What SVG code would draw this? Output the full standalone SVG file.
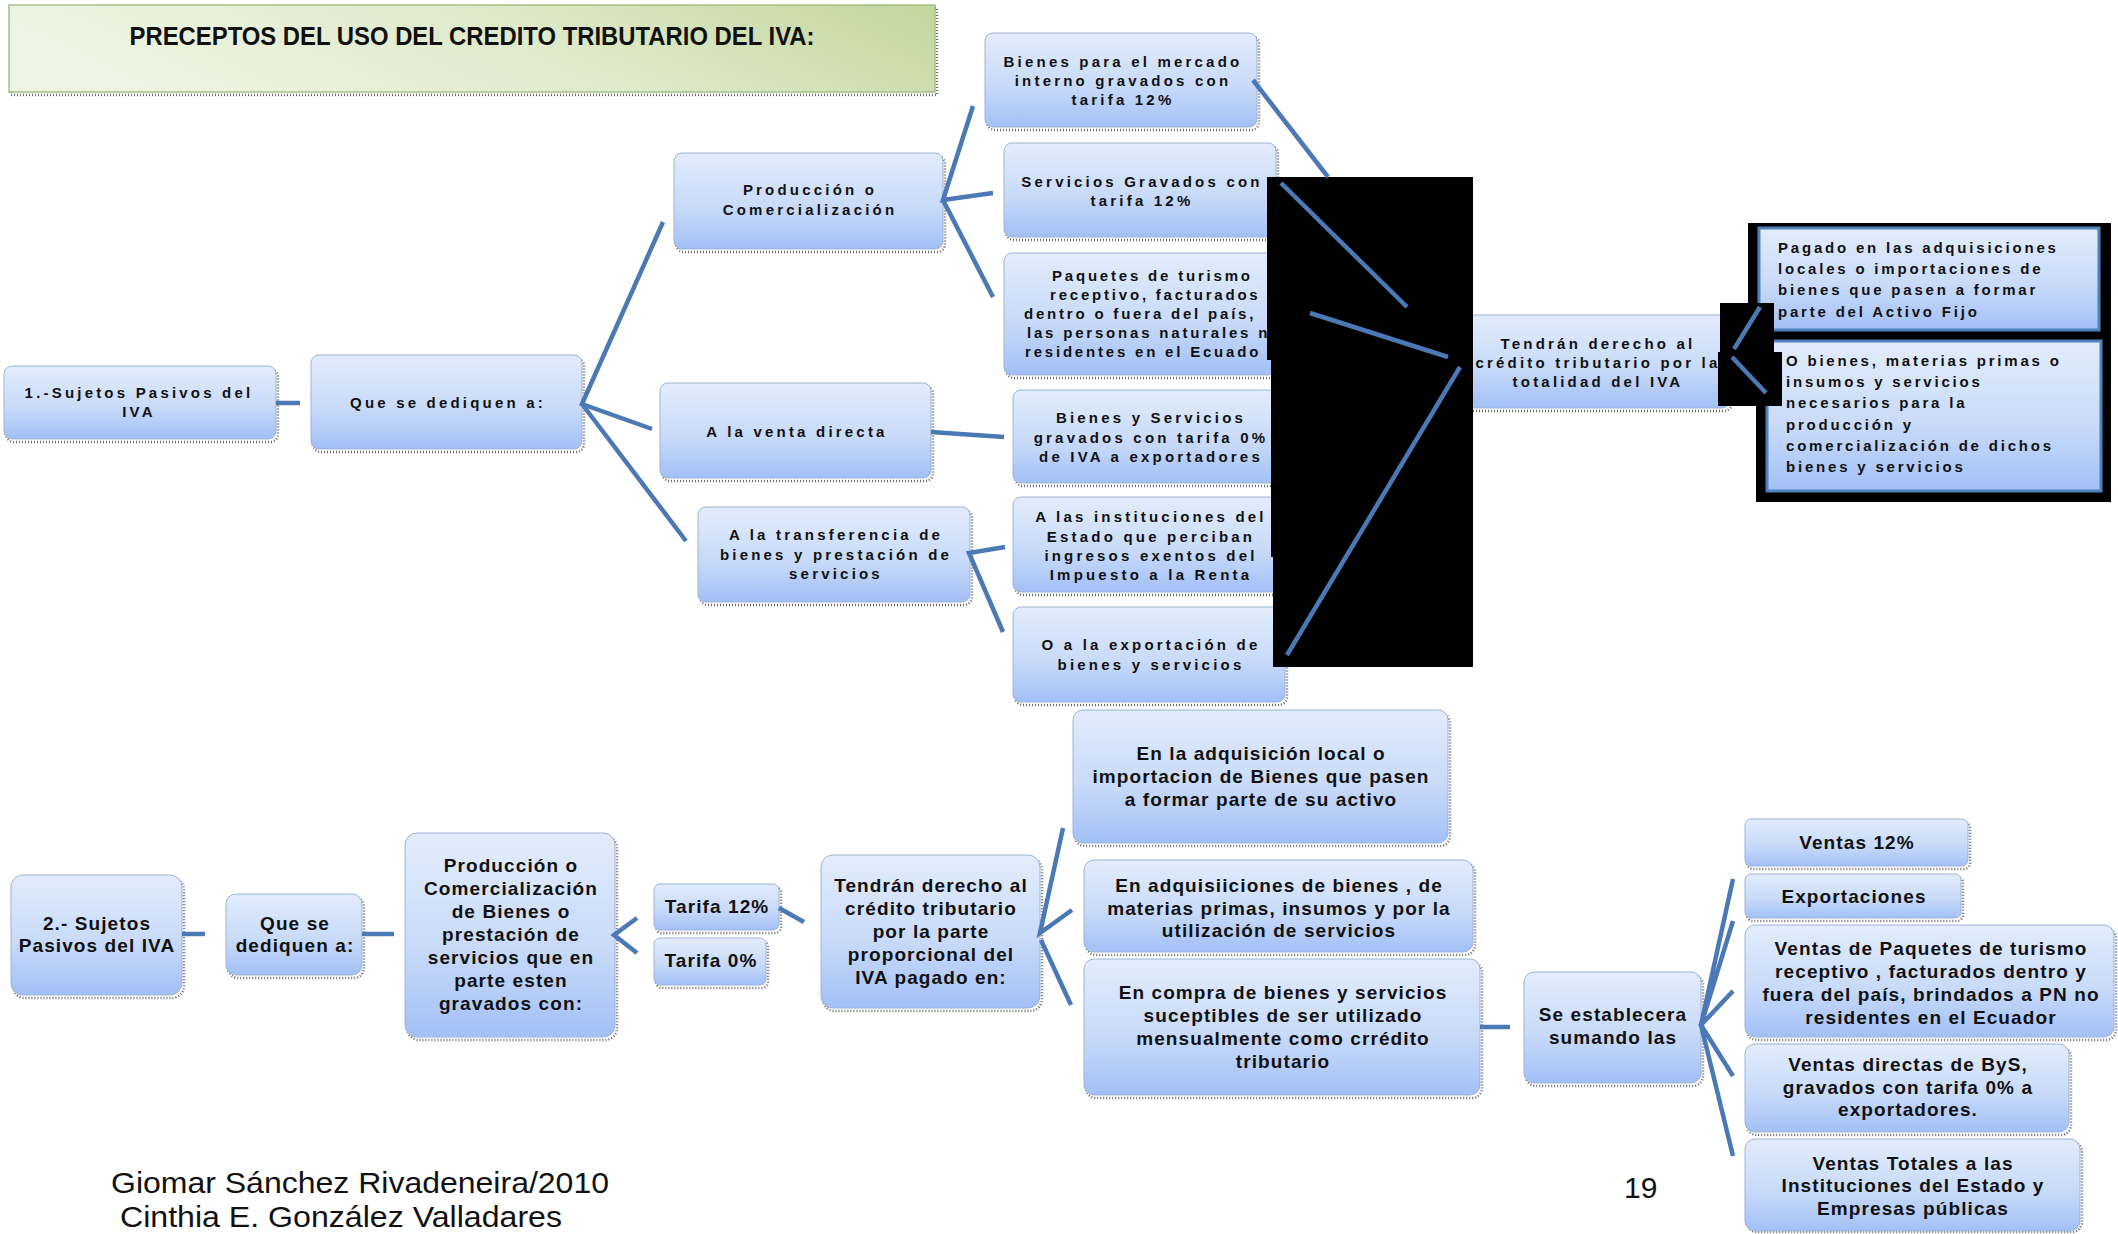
<svg xmlns="http://www.w3.org/2000/svg" width="2118" height="1234" viewBox="0 0 2118 1234">
<defs>
<linearGradient id="gb" x1="0" y1="0" x2="0" y2="1">
<stop offset="0" stop-color="#e3ecfc"/>
<stop offset="0.55" stop-color="#c9dbf9"/>
<stop offset="1" stop-color="#a2c0f6"/>
</linearGradient>
<linearGradient id="gg" x1="0" y1="0.2" x2="1" y2="0">
<stop offset="0" stop-color="#eef4e3"/>
<stop offset="0.5" stop-color="#dfeacb"/>
<stop offset="1" stop-color="#c3d69b"/>
</linearGradient>
<style>
.sd{fill:none;stroke:#6a6a6a;stroke-width:2.5;stroke-dasharray:1 2}
.bx{fill:url(#gb);stroke:#9db3d6;stroke-width:1}
.bb{fill:url(#gb);stroke:#4f81bd;stroke-width:3}
.t1{font-family:"Liberation Sans",Arial,sans-serif;font-weight:bold;font-size:15px;letter-spacing:3.2px;text-anchor:middle;fill:#111}
.t1s{font-family:"Liberation Sans",Arial,sans-serif;font-weight:bold;font-size:15px;letter-spacing:2.8px;fill:#111}
.t2{font-family:"Liberation Sans",Arial,sans-serif;font-weight:bold;font-size:19px;letter-spacing:1.1px;text-anchor:middle;fill:#111}
.ft{font-family:"Liberation Sans",Arial,sans-serif;font-size:30px;fill:#111}
.ln{fill:none;stroke:#4a79b5;stroke-width:4.5}
.blk{fill:#000}
</style>
</defs>
<rect width="2118" height="1234" fill="#fff"/>

<g id="title">
<rect class="sd" x="11" y="8" width="926" height="87"/>
<rect x="9" y="5" width="926" height="87" fill="url(#gg)" stroke="#a9bf85" stroke-width="1.5"/>
<text x="472" y="45" text-anchor="middle" textLength="685" lengthAdjust="spacingAndGlyphs" font-family="Liberation Sans, Arial, sans-serif" font-weight="bold" font-size="25" fill="#111">PRECEPTOS DEL USO DEL CREDITO TRIBUTARIO DEL IVA:</text>
</g>

<polygon id="redact-frame" class="blk" points="1748,223 2111,223 2111,502 1756,502 1756,340 1748,340"/>

<g id="n1"><rect class="sd" x="6" y="369" width="272" height="73" rx="8"/><rect class="bx" x="4" y="366" width="272" height="73" rx="8"/>
<text class="t1" x="139" y="398">1.-Sujetos Pasivos del</text><text class="t1" x="139" y="417">IVA</text></g>
<g id="n2"><rect class="sd" x="313" y="358" width="271" height="94" rx="8"/><rect class="bx" x="311" y="355" width="271" height="94" rx="8"/>
<text class="t1" x="448" y="408">Que se dediquen a:</text></g>
<g id="n3"><rect class="sd" x="676" y="156" width="269" height="96" rx="8"/><rect class="bx" x="674" y="153" width="269" height="96" rx="8"/>
<text class="t1" x="810" y="195">Producción o</text><text class="t1" x="810" y="215">Comercialización</text></g>
<g id="n4"><rect class="sd" x="662" y="386" width="271" height="95" rx="8"/><rect class="bx" x="660" y="383" width="271" height="95" rx="8"/>
<text class="t1" x="797" y="437">A la venta directa</text></g>
<g id="n5"><rect class="sd" x="700" y="510" width="272" height="95" rx="8"/><rect class="bx" x="698" y="507" width="272" height="95" rx="8"/>
<text class="t1" x="836" y="540">A la transferencia de</text><text class="t1" x="836" y="560">bienes y prestación de</text><text class="t1" x="836" y="579">servicios</text></g>
<g id="n6"><rect class="sd" x="987" y="36" width="272" height="94" rx="8"/><rect class="bx" x="985" y="33" width="272" height="94" rx="8"/>
<text class="t1" x="1123" y="67">Bienes para el mercado</text><text class="t1" x="1123" y="86">interno gravados con</text><text class="t1" x="1123" y="105">tarifa 12%</text></g>
<g id="n7"><rect class="sd" x="1006" y="146" width="272" height="94" rx="8"/><rect class="bx" x="1004" y="143" width="272" height="94" rx="8"/>
<text class="t1" x="1142" y="187">Servicios Gravados con</text><text class="t1" x="1142" y="206">tarifa 12%</text></g>
<g id="n8"><rect class="sd" x="1006" y="256" width="272" height="122" rx="8"/><rect class="bx" x="1004" y="253" width="272" height="122" rx="8"/>
<text class="t1s" x="1052" y="281">Paquetes de turismo</text><text class="t1s" x="1050" y="300">receptivo, facturados</text><text class="t1s" x="1024" y="319">dentro o fuera del país,</text><text class="t1s" x="1027" y="338">las personas naturales n</text><text class="t1s" x="1025" y="357">residentes en el Ecuado</text></g>
<g id="n9"><rect class="sd" x="1015" y="393" width="272" height="93" rx="8"/><rect class="bx" x="1013" y="390" width="272" height="93" rx="8"/>
<text class="t1" x="1151" y="423">Bienes y Servicios</text><text class="t1" x="1151" y="443">gravados con tarifa 0%</text><text class="t1" x="1151" y="462">de IVA a exportadores</text></g>
<g id="n10"><rect class="sd" x="1015" y="500" width="272" height="95" rx="8"/><rect class="bx" x="1013" y="497" width="272" height="95" rx="8"/>
<text class="t1" x="1151" y="522">A las instituciones del</text><text class="t1" x="1151" y="542">Estado que perciban</text><text class="t1" x="1151" y="561">ingresos exentos del</text><text class="t1" x="1151" y="580">Impuesto a la Renta</text></g>
<g id="n11"><rect class="sd" x="1015" y="610" width="272" height="95" rx="8"/><rect class="bx" x="1013" y="607" width="272" height="95" rx="8"/>
<text class="t1" x="1151" y="650">O a la exportación de</text><text class="t1" x="1151" y="670">bienes y servicios</text></g>
<g id="n12"><rect class="sd" x="1462" y="318" width="270" height="93" rx="8"/><rect class="bx" x="1460" y="315" width="270" height="93" rx="8"/>
<text class="t1" x="1598" y="349">Tendrán derecho al</text><text class="t1" x="1598" y="368">crédito tributario por la</text><text class="t1" x="1598" y="387">totalidad del IVA</text></g>
<g id="nA"><rect class="bb" x="1759" y="228" width="340" height="102"/>
<text class="t1s" x="1778" y="253">Pagado en las adquisiciones</text><text class="t1s" x="1778" y="274">locales o importaciones de</text><text class="t1s" x="1778" y="295">bienes que pasen a formar</text><text class="t1s" x="1778" y="317">parte del Activo Fijo</text></g>
<g id="nB"><rect class="bb" x="1767" y="341" width="334" height="150"/>
<text class="t1s" x="1786" y="366">O bienes, materias primas o</text><text class="t1s" x="1786" y="387">insumos y servicios</text><text class="t1s" x="1786" y="408">necesarios para la</text><text class="t1s" x="1786" y="430">producción y</text><text class="t1s" x="1786" y="451">comercialización de dichos</text><text class="t1s" x="1786" y="472">bienes y servicios</text></g>

<g id="b1"><rect class="sd" x="13" y="878" width="171" height="120" rx="12"/><rect class="bx" x="11" y="875" width="171" height="120" rx="12"/>
<text class="t2" x="97" y="930">2.- Sujetos</text><text class="t2" x="97" y="952">Pasivos del IVA</text></g>
<g id="b2"><rect class="sd" x="228" y="897" width="136" height="81" rx="10"/><rect class="bx" x="226" y="894" width="136" height="81" rx="10"/>
<text class="t2" x="295" y="930">Que se</text><text class="t2" x="295" y="952">dediquen a:</text></g>
<g id="b3"><rect class="sd" x="407" y="836" width="210" height="204" rx="12"/><rect class="bx" x="405" y="833" width="210" height="204" rx="12"/>
<text class="t2" x="511" y="872">Producción o</text><text class="t2" x="511" y="895">Comercialización</text><text class="t2" x="511" y="918">de Bienes o</text><text class="t2" x="511" y="941">prestación de</text><text class="t2" x="511" y="964">servicios que en</text><text class="t2" x="511" y="987">parte esten</text><text class="t2" x="511" y="1010">gravados con:</text></g>
<g id="b4"><rect class="sd" x="656" y="887" width="125" height="46" rx="6"/><rect class="bx" x="654" y="884" width="125" height="46" rx="6"/>
<text class="t2" x="717" y="913">Tarifa 12%</text></g>
<g id="b5"><rect class="sd" x="656" y="941" width="112" height="47" rx="6"/><rect class="bx" x="654" y="938" width="112" height="47" rx="6"/>
<text class="t2" x="711" y="967">Tarifa 0%</text></g>
<g id="b6"><rect class="sd" x="823" y="858" width="219" height="153" rx="12"/><rect class="bx" x="821" y="855" width="219" height="153" rx="12"/>
<text class="t2" x="931" y="892">Tendrán derecho al</text><text class="t2" x="931" y="915">crédito tributario</text><text class="t2" x="931" y="938">por la parte</text><text class="t2" x="931" y="961">proporcional del</text><text class="t2" x="931" y="984">IVA pagado en:</text></g>
<g id="b7"><rect class="sd" x="1075" y="713" width="375" height="133" rx="10"/><rect class="bx" x="1073" y="710" width="375" height="133" rx="10"/>
<text class="t2" x="1261" y="760">En la adquisición local o</text><text class="t2" x="1261" y="783">importacion de Bienes que pasen</text><text class="t2" x="1261" y="806">a formar parte de su activo</text></g>
<g id="b8"><rect class="sd" x="1086" y="863" width="389" height="92" rx="10"/><rect class="bx" x="1084" y="860" width="389" height="92" rx="10"/>
<text class="t2" x="1279" y="892">En adquisiiciones de bienes , de</text><text class="t2" x="1279" y="915">materias primas, insumos y por la</text><text class="t2" x="1279" y="937">utilización de servicios</text></g>
<g id="b9"><rect class="sd" x="1086" y="962" width="396" height="136" rx="10"/><rect class="bx" x="1084" y="959" width="396" height="136" rx="10"/>
<text class="t2" x="1283" y="999">En compra de bienes y servicios</text><text class="t2" x="1283" y="1022">suceptibles de ser utilizado</text><text class="t2" x="1283" y="1045">mensualmente como crrédito</text><text class="t2" x="1283" y="1068">tributario</text></g>
<g id="b10"><rect class="sd" x="1526" y="975" width="177" height="111" rx="10"/><rect class="bx" x="1524" y="972" width="177" height="111" rx="10"/>
<text class="t2" x="1613" y="1021">Se establecera</text><text class="t2" x="1613" y="1044">sumando las</text></g>
<g id="b11"><rect class="sd" x="1747" y="822" width="223" height="47" rx="6"/><rect class="bx" x="1745" y="819" width="223" height="47" rx="6"/>
<text class="t2" x="1857" y="849">Ventas 12%</text></g>
<g id="b12"><rect class="sd" x="1747" y="877" width="216" height="44" rx="6"/><rect class="bx" x="1745" y="874" width="216" height="44" rx="6"/>
<text class="t2" x="1854" y="903">Exportaciones</text></g>
<g id="b13"><rect class="sd" x="1747" y="928" width="369" height="112" rx="10"/><rect class="bx" x="1745" y="925" width="369" height="112" rx="10"/>
<text class="t2" x="1931" y="955">Ventas de Paquetes de turismo</text><text class="t2" x="1931" y="978">receptivo , facturados dentro y</text><text class="t2" x="1931" y="1001">fuera del país, brindados a PN no</text><text class="t2" x="1931" y="1024">residentes en el Ecuador</text></g>
<g id="b14"><rect class="sd" x="1747" y="1047" width="324" height="88" rx="10"/><rect class="bx" x="1745" y="1044" width="324" height="88" rx="10"/>
<text class="t2" x="1908" y="1071">Ventas directas de ByS,</text><text class="t2" x="1908" y="1094">gravados con tarifa 0% a</text><text class="t2" x="1908" y="1116">exportadores.</text></g>
<g id="b15"><rect class="sd" x="1747" y="1142" width="335" height="90" rx="10"/><rect class="bx" x="1745" y="1139" width="335" height="92" rx="10"/>
<text class="t2" x="1913" y="1170">Ventas Totales a las</text><text class="t2" x="1913" y="1192">Instituciones del Estado y</text><text class="t2" x="1913" y="1215">Empresas públicas</text></g>

<g id="redact">
<polygon class="blk" points="1267,177 1473,177 1473,667 1273,667 1273,557 1271,557 1271,360 1267,360"/>
<rect class="blk" x="1720" y="303" width="54" height="49"/>
<rect class="blk" x="1718" y="352" width="64" height="54"/>
</g>

<g id="connectors">
<line class="ln" x1="276" y1="403" x2="300" y2="403" stroke-width="5"/>
<polyline class="ln" points="663,222 582,404 652,429"/>
<line class="ln" x1="582" y1="404" x2="686" y2="541"/>
<polyline class="ln" points="973,106 943,200 993,193"/>
<line class="ln" x1="943" y1="200" x2="993" y2="297"/>
<line class="ln" x1="931" y1="432" x2="1004" y2="437"/>
<polyline class="ln" points="1005,547 969,553 1003,632"/>
<line class="ln" x1="1253" y1="80" x2="1328" y2="177"/>
<line class="ln" x1="1281" y1="183" x2="1407" y2="307"/>
<line class="ln" x1="1310" y1="313" x2="1448" y2="357"/>
<line class="ln" x1="1460" y1="367" x2="1287" y2="655"/>
<line class="ln" x1="1760" y1="307" x2="1734" y2="349"/>
<line class="ln" x1="1732" y1="357" x2="1766" y2="393"/>
<line class="ln" x1="182" y1="934" x2="205" y2="934" stroke-width="5"/>
<line class="ln" x1="362" y1="934" x2="394" y2="934" stroke-width="5"/>
<polyline class="ln" points="637,918 614,935 637,953"/>
<line class="ln" x1="779" y1="908" x2="804" y2="922"/>
<polyline class="ln" points="1063,828 1040,933 1072,910"/>
<line class="ln" x1="1041" y1="940" x2="1071" y2="1005"/>
<line class="ln" x1="1480" y1="1027" x2="1510" y2="1027" stroke-width="5"/>
<polyline class="ln" points="1733,879 1701,1025 1733,921"/>
<polyline class="ln" points="1733,991 1701,1025 1733,1076"/>
<line class="ln" x1="1701" y1="1025" x2="1733" y2="1156"/>
</g>

<g id="footer">
<text class="ft" x="111" y="1193" textLength="498" lengthAdjust="spacingAndGlyphs">Giomar Sánchez Rivadeneira/2010</text>
<text class="ft" x="120" y="1227" textLength="442" lengthAdjust="spacingAndGlyphs">Cinthia E. González Valladares</text>
<text class="ft" x="1624" y="1198">19</text>
</g>
</svg>
